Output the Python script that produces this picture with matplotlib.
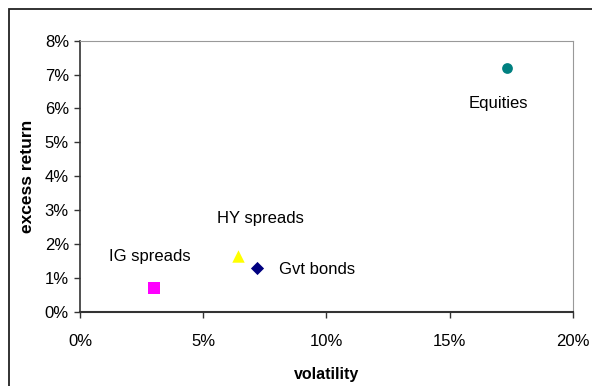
import matplotlib.pyplot as plt
from matplotlib.patches import Rectangle
from matplotlib.ticker import FuncFormatter

plt.rcParams['font.family'] = ['Liberation Sans', 'DejaVu Sans']

names = ["Equities", "HY spreads", "IG spreads", "Gvt bonds"]
volatility = [17.35, 6.4, 3.0, 7.2]
excess_return = [7.18, 1.65, 0.7, 1.28]
colors = ["#008080", "#FFFF00", "#FF00FF", "#000080"]
markers = ["o", "^", "s", "D"]
sizes = [60, 80, 75, 45]
# label offsets in pixels (dx, dy)
offsets = [(-9, -35), (23, 37), (-4, 31), (60, -1)]

fig = plt.figure(figsize=(5.92, 3.86), dpi=100)
ax = fig.add_axes([80 / 592, 1 - 311.7 / 386, 492.7 / 592, 271 / 386])

for i in range(len(names)):
    ax.scatter(volatility[i], excess_return[i], marker=markers[i], s=sizes[i],
               color=colors[i], zorder=3, linewidths=0)
    ax.annotate(names[i], (volatility[i], excess_return[i]), xytext=offsets[i],
                textcoords='offset pixels', ha='center', va='center', fontsize=12)

ax.set_xlim(0, 20)
ax.set_ylim(0, 8)
ax.set_xticks([0, 5, 10, 15, 20])
ax.set_yticks(range(0, 9))
ax.xaxis.set_major_formatter(FuncFormatter(lambda v, p: f'{v:.0f}%'))
ax.yaxis.set_major_formatter(FuncFormatter(lambda v, p: f'{v:.0f}%'))
ax.tick_params(labelsize=12, length=4, width=1, color='#333333', direction='out')
ax.tick_params(axis='x', pad=12)
ax.tick_params(axis='y', pad=4)

ax.spines['left'].set_color('#333333')
ax.spines['bottom'].set_color('#333333')
ax.spines['left'].set_linewidth(1.2)
ax.spines['bottom'].set_linewidth(1.5)
ax.spines['top'].set_color('#999999')
ax.spines['right'].set_color('#999999')

ax.set_xlabel('volatility', fontsize=11.5, fontweight='bold', labelpad=13)
ax.set_ylabel('excess return', fontsize=12.5, fontweight='bold', labelpad=7)

# outer chart frame (partly cut off at right and bottom)
fig.patches.append(Rectangle((8.5 / 592, -0.1), 1.2, 1 - 8.5 / 386 + 0.1,
                             transform=fig.transFigure, fill=False,
                             edgecolor='#222222', linewidth=1.3, zorder=0))

fig.savefig('out.png', dpi=100)
